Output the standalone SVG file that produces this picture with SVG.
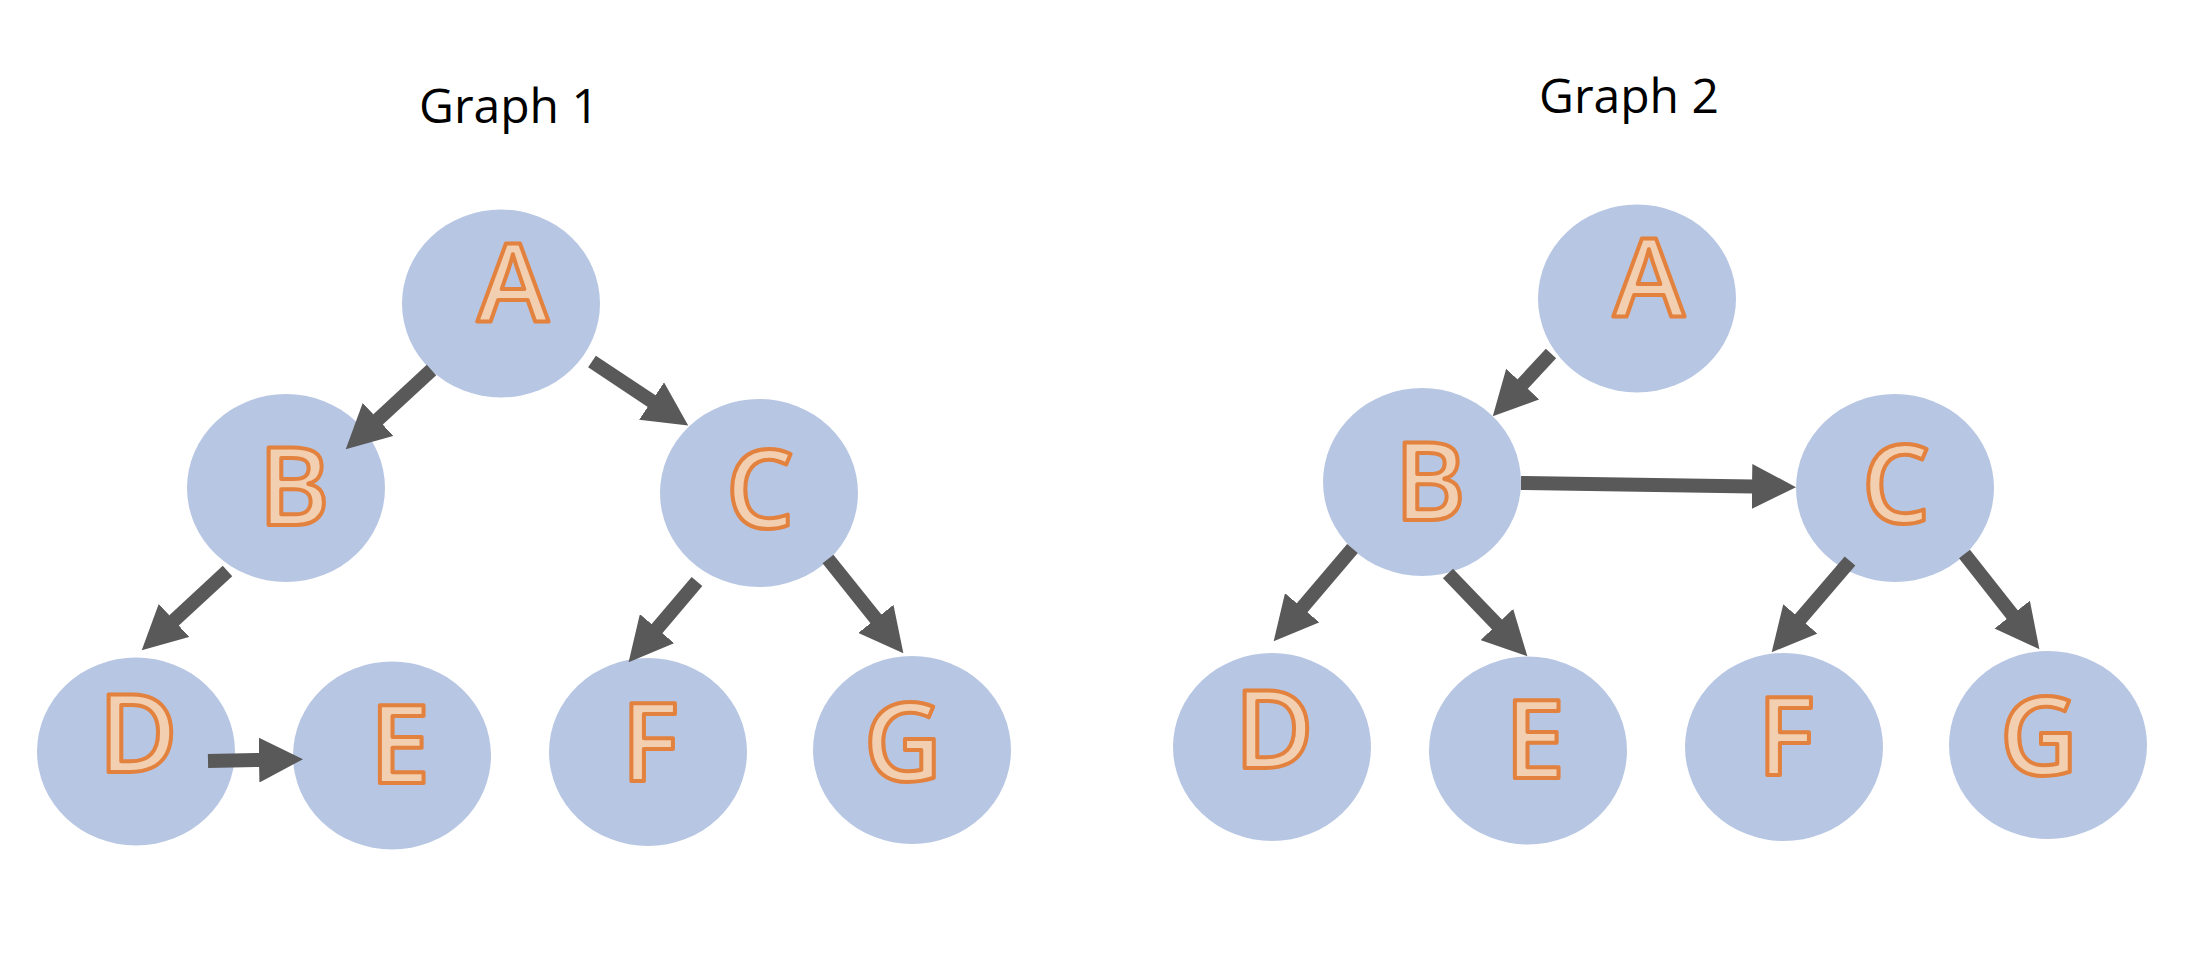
<svg xmlns="http://www.w3.org/2000/svg" width="2210" height="978" viewBox="0 0 2210 978">
<style>
.node ellipse{fill:#B7C6E3}
.lbl{font-family:"Open Sans","Liberation Sans",sans-serif;font-size:108px;font-weight:600;fill:#F2CFB0;stroke:#E3823F;stroke-width:4;stroke-linejoin:round;text-anchor:middle}
.title{font-family:"Open Sans","Liberation Sans",sans-serif;font-size:48px;fill:#000;text-anchor:middle}
.edge{stroke:#595959;stroke-width:14;fill:none;marker-end:url(#head)}
</style>
<defs>
<marker id="head" markerUnits="userSpaceOnUse" markerWidth="44" markerHeight="45" viewBox="0 0 44 45" refX="1" refY="22.5" orient="auto">
<path d="M0,0 L44,22.5 L0,45 Z" fill="#595959"/>
</marker>
</defs>
<rect width="2210" height="978" fill="#fff"/>
<text class="title" x="509" y="123">Graph 1</text>
<text class="title" x="1629" y="113">Graph 2</text>

<g id="g1-A" class="node"><ellipse cx="501" cy="303.5" rx="99" ry="94"/><text class="lbl" x="513" y="322">A</text></g>
<g id="g1-B" class="node"><ellipse cx="286" cy="488" rx="99" ry="94"/><text class="lbl" x="294" y="525">B</text></g>
<g id="g1-C" class="node"><ellipse cx="759" cy="493" rx="99" ry="94"/><text class="lbl" x="760" y="528">C</text></g>
<g id="g1-D" class="node"><ellipse cx="136" cy="751.5" rx="99" ry="94"/><text class="lbl" x="138" y="772">D</text></g>
<g id="g1-E" class="node"><ellipse cx="392" cy="755.5" rx="99" ry="94"/><text class="lbl" x="400" y="783">E</text></g>
<g id="g1-F" class="node"><ellipse cx="648" cy="752" rx="99" ry="94"/><text class="lbl" x="650" y="781">F</text></g>
<g id="g1-G" class="node"><ellipse cx="912" cy="750" rx="99" ry="94"/><text class="lbl" x="903" y="781">G</text></g>

<g id="g2-A" class="node"><ellipse cx="1637" cy="298.5" rx="99" ry="94"/><text class="lbl" x="1649" y="317">A</text></g>
<g id="g2-B" class="node"><ellipse cx="1422" cy="482" rx="99" ry="94"/><text class="lbl" x="1430" y="520">B</text></g>
<g id="g2-C" class="node"><ellipse cx="1895" cy="488" rx="99" ry="94"/><text class="lbl" x="1896" y="523">C</text></g>
<g id="g2-D" class="node"><ellipse cx="1272" cy="747" rx="99" ry="94"/><text class="lbl" x="1274" y="768">D</text></g>
<g id="g2-E" class="node"><ellipse cx="1528" cy="750.5" rx="99" ry="94"/><text class="lbl" x="1535" y="778">E</text></g>
<g id="g2-F" class="node"><ellipse cx="1784" cy="747" rx="99" ry="94"/><text class="lbl" x="1786" y="775">F</text></g>
<g id="g2-G" class="node"><ellipse cx="2048" cy="745" rx="99" ry="94"/><text class="lbl" x="2039" y="775">G</text></g>

<g id="connectors">
<line class="edge" x1="431.5" y1="370" x2="377.3" y2="420.1"/>
<line class="edge" x1="592" y1="361.5" x2="652.4" y2="401.6"/>
<line class="edge" x1="227.5" y1="571" x2="173.3" y2="621.1"/>
<line class="edge" x1="697" y1="581.5" x2="656.4" y2="629.4"/>
<line class="edge" x1="828" y1="559" x2="876.5" y2="619.6"/>
<line class="edge" x1="208" y1="761" x2="260" y2="760"/>
<line class="edge" x1="1551" y1="353.5" x2="1522" y2="384.8"/>
<line class="edge" x1="1521" y1="483" x2="1753" y2="486.5"/>
<line class="edge" x1="1352.5" y1="548.5" x2="1301.5" y2="608.5"/>
<line class="edge" x1="1448" y1="573.5" x2="1497.6" y2="625.2"/>
<line class="edge" x1="1850" y1="561" x2="1799.7" y2="619.6"/>
<line class="edge" x1="1964.5" y1="554" x2="2012.8" y2="615.4"/>
</g>
</svg>
